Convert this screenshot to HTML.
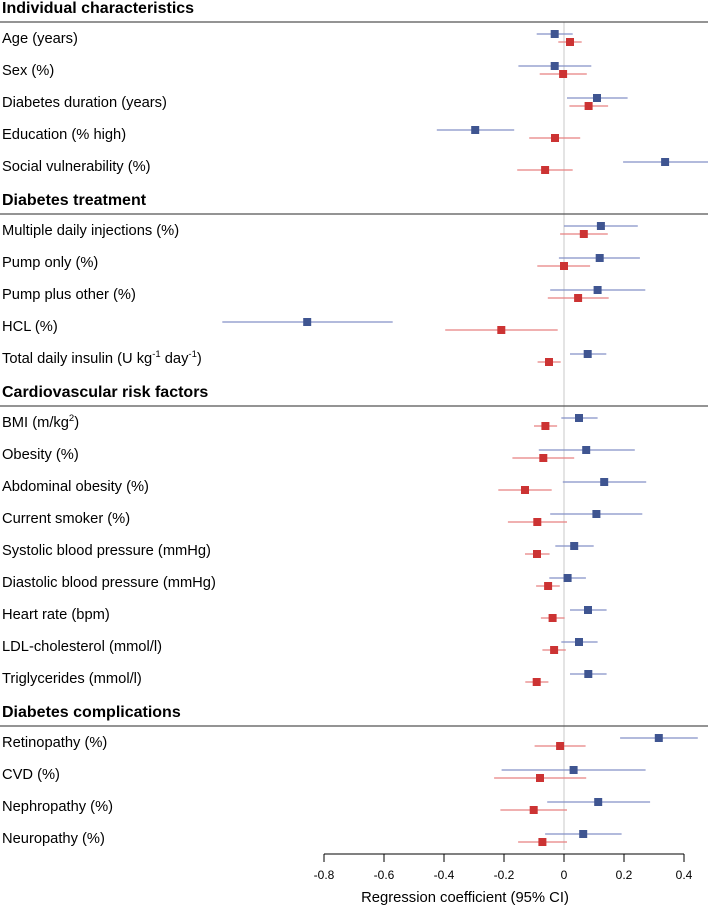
<!DOCTYPE html>
<html><head><meta charset="utf-8"><style>
html,body{margin:0;padding:0;background:#fff;}
svg{display:block;font-family:"Liberation Sans",Arial,sans-serif;}
</style></head><body>
<svg id="chart" width="708" height="906" viewBox="0 0 708 906"></svg>
<script>
const sections = ["Individual characteristics","Diabetes treatment","Cardiovascular risk factors","Diabetes complications"];
const categories = [
 ["Age (years)","Sex (%)","Diabetes duration (years)","Education (% high)","Social vulnerability (%)"],
 ["Multiple daily injections (%)","Pump only (%)","Pump plus other (%)","HCL (%)","Total daily insulin (U kg|-1| day|-1|)"],
 ["BMI (m/kg|2|)","Obesity (%)","Abdominal obesity (%)","Current smoker (%)","Systolic blood pressure (mmHg)","Diastolic blood pressure (mmHg)","Heart rate (bpm)","LDL-cholesterol (mmol/l)","Triglycerides (mmol/l)"],
 ["Retinopathy (%)","CVD (%)","Nephropathy (%)","Neuropathy (%)"]
];
const blueEst = [-0.031,-0.031,0.110,-0.296,0.337, 0.123,0.119,0.112,-0.856,0.079, 0.050,0.074,0.134,0.108,0.034,0.012,0.080,0.050,0.081, 0.316,0.032,0.114,0.064];
const blueLo  = [-0.091,-0.152,0.010,-0.424,0.197, 0.000,-0.017,-0.046,-1.139,0.020, -0.009,-0.084,-0.004,-0.046,-0.029,-0.049,0.020,-0.009,0.020, 0.187,-0.208,-0.056,-0.063];
const blueHi  = [0.029,0.091,0.212,-0.166,0.48, 0.246,0.253,0.271,-0.571,0.141, 0.112,0.236,0.274,0.261,0.099,0.073,0.142,0.112,0.142, 0.446,0.272,0.287,0.192];
const redEst  = [0.020,-0.003,0.082,-0.030,-0.063, 0.066,0.000,0.047,-0.209,-0.050, -0.062,-0.069,-0.130,-0.089,-0.090,-0.053,-0.038,-0.033,-0.091, -0.013,-0.080,-0.101,-0.072];
const redLo   = [-0.019,-0.081,0.018,-0.116,-0.156, -0.013,-0.089,-0.054,-0.396,-0.088, -0.100,-0.172,-0.219,-0.187,-0.130,-0.093,-0.077,-0.072,-0.129, -0.098,-0.233,-0.212,-0.153];
const redHi   = [0.059,0.076,0.147,0.054,0.029, 0.146,0.087,0.149,-0.021,-0.011, -0.023,0.034,-0.041,0.010,-0.048,-0.014,0.002,0.006,-0.052, 0.072,0.074,0.010,0.010];
const tickVals = [-0.8,-0.6,-0.4,-0.2,0,0.2,0.4];
const tickLabels = ["-0.8","-0.6","-0.4","-0.2","0","0.2","0.4"];

const NS="http://www.w3.org/2000/svg";
const svg=document.getElementById('chart');
const x=v=>564+v*300;
function mk(tag,attrs,parent){const e=document.createElementNS(NS,tag);for(const k in attrs)e.setAttribute(k,attrs[k]);(parent||svg).appendChild(e);return e;}

const zl=mk('line',{x1:x(0),x2:x(0),y1:22,y2:850,stroke:'#dcdcdc','stroke-width':1.5});



let rule=22, idx=0;
sections.forEach((s,si)=>{
  const h=mk('text',{x:2,y:rule-9,'font-size':16,'font-weight':'bold',fill:'#000'});
  h.textContent=s;
  
  
  const r=mk('line',{x1:0,x2:708,y1:rule,y2:rule,stroke:'#555','stroke-width':1.3});
  
  
  categories[si].forEach((c,i)=>{
    const yb=rule+12+32*i, yr=yb+8;
    const t=mk('text',{x:2,y:yb+9,'font-size':14.7,fill:'#000'});
    
    
    const parts=c.split('|');
    parts.forEach((p,pi)=>{
      const ts=mk('tspan',{},t);
      if(pi%2===1){ts.setAttribute('font-size',9.5);ts.setAttribute('dy',-6);}
      else if(pi>0){ts.setAttribute('dy',6);}
      ts.textContent=p;
    });
    const g=mk('g',{});
    
    
    const bl=mk('line',{x1:x(blueLo[idx]),x2:Math.min(708,x(blueHi[idx])),y1:yb,y2:yb,stroke:'#8590c8','stroke-width':1.2},g);
    
    
    const bp=mk('rect',{x:x(blueEst[idx])-4,y:yb-4,width:8,height:8,fill:'#3f5591'},g);
    
    
    const rl=mk('line',{x1:x(redLo[idx]),x2:x(redHi[idx]),y1:yr,y2:yr,stroke:'#e88080','stroke-width':1.2},g);
    
    
    const rp=mk('rect',{x:x(redEst[idx])-4,y:yr-4,width:8,height:8,fill:'#cc3333'},g);
    
    
    idx++;
  });
  rule+=32*(categories[si].length+1);
});

const ax=mk('line',{x1:x(-0.8),x2:x(0.4),y1:854,y2:854,stroke:'#000','stroke-width':1});


tickVals.forEach((v,i)=>{
  const tk=mk('line',{x1:x(v),x2:x(v),y1:854,y2:862,stroke:'#000','stroke-width':1});
  
  
  const tl=mk('text',{x:x(v),y:879,'font-size':12,'text-anchor':'middle',fill:'#000'});
  tl.textContent=tickLabels[i];
  
  
});
const tt=mk('text',{x:465,y:902,'font-size':14.8,'text-anchor':'middle',fill:'#000'});
tt.textContent='Regression coefficient (95% CI)';


</script>
</body></html>
